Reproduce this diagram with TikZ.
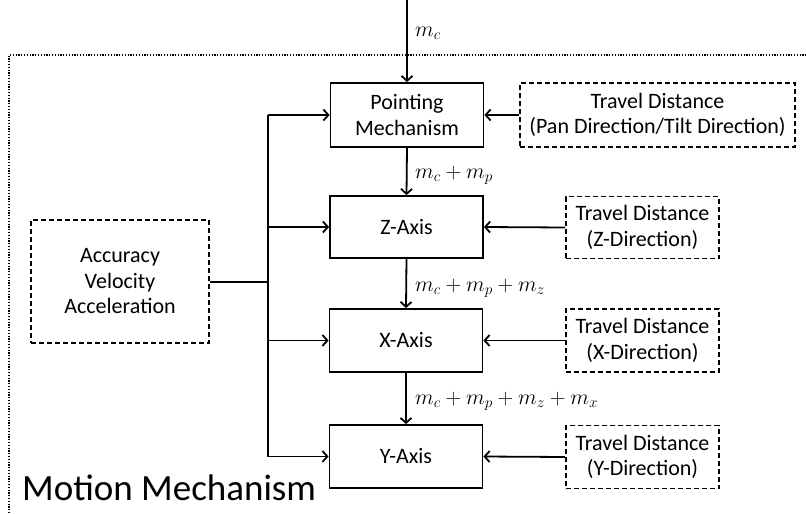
\RequirePackage{fix-cm}
\documentclass[tikz,border=0pt]{standalone}
\usepackage{fontspec}
\setmainfont{Carlito}
\usetikzlibrary{arrows.meta}
\begin{document}
\begin{tikzpicture}[x=1pt,y=-1pt,
  solidbox/.style={draw, line width=1.8pt, minimum width=153pt, minimum height=62pt, inner sep=0pt, align=center, font=\fontsize{22}{25.5}\selectfont},
  dashbox/.style={draw, line width=1.7pt, dash pattern=on 5pt off 3pt, inner sep=0pt, align=center, font=\fontsize{22}{25.5}\selectfont},
  conn/.style={line width=1.8pt, -{Straight Barb[length=5pt,width=11pt,line width=1.8pt]}},
  busline/.style={line width=2.5pt},
  masslbl/.style={anchor=west, inner sep=0pt, font=\fontsize{21.8}{26}\selectfont}
]
\useasboundingbox (0,0) rectangle (806,514);
% dotted frame
\draw[line width=1.5pt, dash pattern=on 1.2pt off 1.6pt] (812,55) -- (9,55) -- (9,520);

% main column
\node[solidbox, minimum height=64pt] (P) at (407,115) {Pointing\\Mechanism};
\node[solidbox] (Z) at (406.5,227) {Z-Axis};
\node[solidbox, minimum height=63pt] (X) at (406,340.5) {X-Axis};
\node[solidbox, minimum height=63pt] (Y) at (406,456.5) {Y-Axis};

% travel distance boxes
\node[dashbox, minimum width=275pt, minimum height=64pt] (PT) at (657.5,115) {Travel Distance\\(Pan Direction/Tilt Direction)};
\node[dashbox, minimum width=153pt, minimum height=62pt] (ZT) at (642.5,227.5) {Travel Distance\\(Z-Direction)};
\node[dashbox, minimum width=153pt, minimum height=63pt] (XT) at (642.5,340.5) {Travel Distance\\(X-Direction)};
\node[dashbox, minimum width=153pt, minimum height=63pt] (YT) at (642.5,457) {Travel Distance\\(Y-Direction)};

% accuracy box
\node[dashbox, minimum width=178pt, minimum height=123pt] (ACC) at (120,281.5) {Accuracy\\Velocity\\Acceleration};

% top input
\coordinate (TOP) at (407,0);
\draw[conn] (TOP) -- (P.north);
\node[masslbl] (LC) at (415,33) {$m_c$};

% vertical flow
\draw[conn] (P.south) -- (Z.north);
\node[masslbl] (LP) at (415,175) {$m_c + m_p$};
\draw[conn] (Z.south) -- (X.north);
\node[masslbl] (LZ) at (415,288) {$m_c + m_p + m_z$};
\draw[conn] (X.south) -- (Y.north);
\node[masslbl] (LX) at (415,401) {$m_c + m_p + m_z + m_x$};

% travel arrows
\draw[conn] (PT.west) -- (P.east);
\draw[conn] (ZT.west) -- (Z.east);
\draw[conn] (XT.west) -- (X.east);
\draw[conn] (YT.west) -- (Y.east);

% bus
\coordinate (B0) at (268,282);
\coordinate (BP) at (268,115);
\coordinate (BY) at (268,456.5);
\draw[busline] (ACC.east |- B0) -- (B0);
\draw[busline] (BP) -- (BY);
\draw[conn] (BP) -- (P.west);
\draw[conn] (268,227) -- (Z.west);
\draw[conn] (268,340.5) -- (X.west);
\draw[conn] (BY) -- (Y.west);

% title of frame
\node[anchor=base west, inner sep=0pt, font=\fontsize{37}{40}\selectfont] (MM) at (22,500) {Motion Mechanism};
\end{tikzpicture}
\end{document}
